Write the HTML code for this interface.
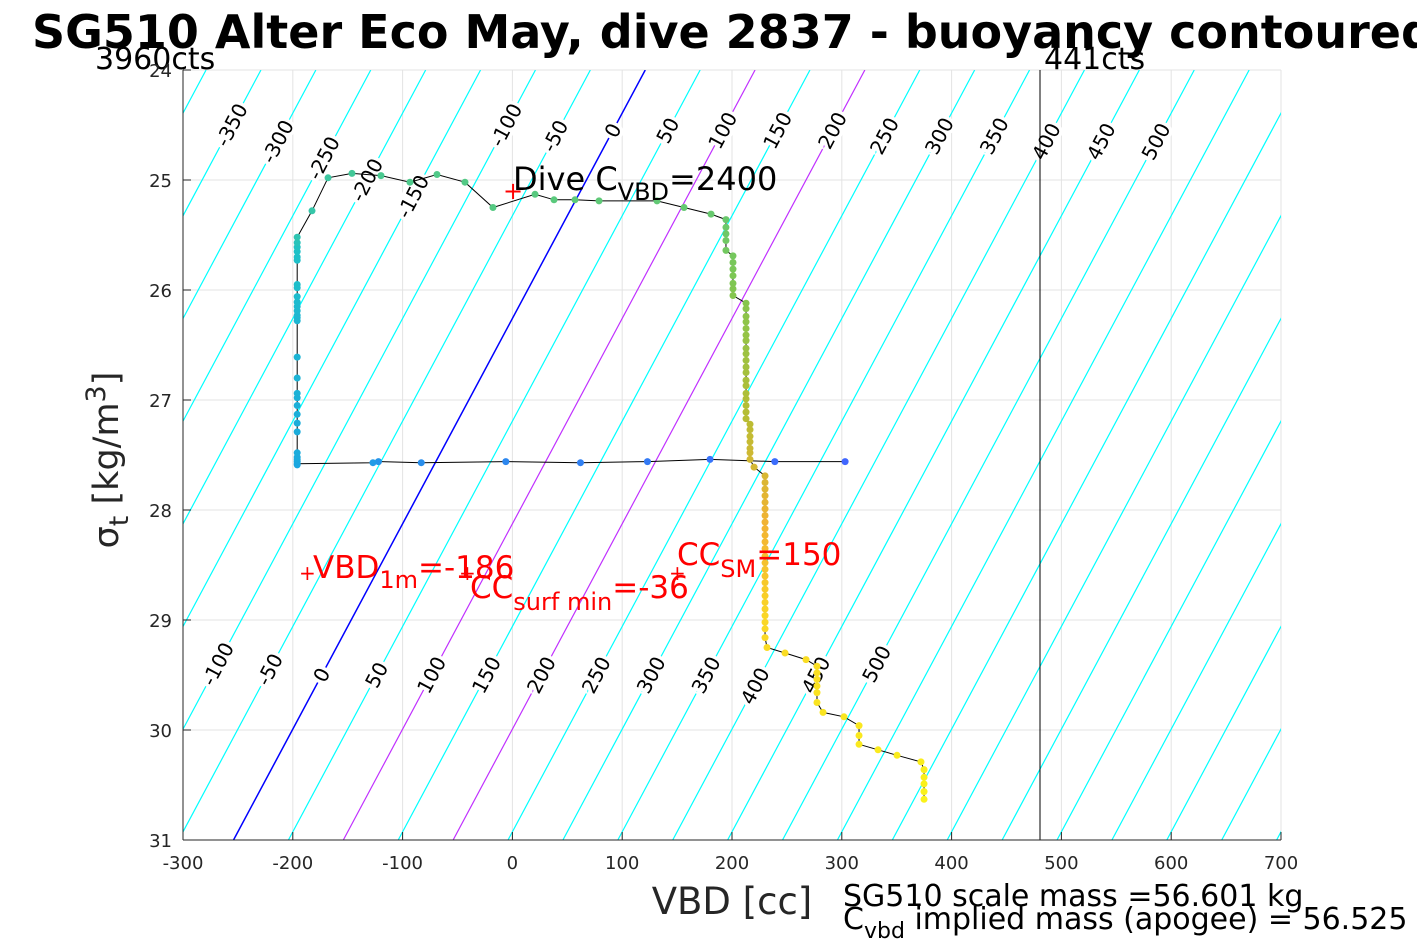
<!DOCTYPE html>
<html><head><meta charset="utf-8">
<style>
html,body{margin:0;padding:0;background:#fff;}
svg{display:block;font-family:"DejaVu Sans","Liberation Sans",sans-serif;}
</style></head>
<body>
<svg id="chart" width="1417" height="945" viewBox="0 0 1417 945">
<defs><clipPath id="pc"><rect x="183" y="70" width="1098" height="770"/></clipPath></defs>
<text x="32" y="48" font-size="46" font-weight="bold">SG510 Alter Eco May, dive 2837 - buoyancy contoured</text>
<g id="grid"></g>
<g id="contours" clip-path="url(#pc)"></g>
<g id="clabels"></g>
<line x1="1040" y1="70" x2="1040" y2="840" stroke="#000" stroke-width="1"/>
<text x="95" y="69" font-size="30">3960cts</text>
<text x="1044" y="69" font-size="30">441cts</text>
<g id="series"></g>
<g id="axes"></g>
<g fill="#f00">
<text x="503" y="199" font-size="24">+</text>
<text x="513" y="190" font-size="32" fill="#000">Dive C<tspan font-size="24" dy="10">VBD</tspan><tspan dy="-10">=2400</tspan></text>
<text x="299" y="580" font-size="20">+</text>
<text x="313" y="578" font-size="31">VBD<tspan font-size="24" dy="10">1m</tspan><tspan dy="-10">=-186</tspan></text>
<text x="459" y="580" font-size="20">+</text>
<text x="470" y="598" font-size="31">CC<tspan font-size="24" dy="12">surf min</tspan><tspan dy="-12">=-36</tspan></text>
<text x="669" y="580" font-size="20">+</text>
<text x="677" y="565" font-size="31">CC<tspan font-size="24" dy="12">SM</tspan><tspan dy="-12">=150</tspan></text>
</g>
<text x="732" y="914" font-size="37" fill="#262626" text-anchor="middle">VBD [cc]</text>
<text transform="translate(118,460) rotate(-90)" font-size="35" fill="#262626" text-anchor="middle">σ<tspan font-size="27" dy="10">t</tspan><tspan dy="-10"> [kg/m</tspan><tspan font-size="27" dy="-13">3</tspan><tspan dy="13">]</tspan></text>
<text x="843" y="906" font-size="30">SG510 scale mass =56.601 kg</text>
<text x="843" y="929" font-size="30">C<tspan font-size="22" dy="9">vbd</tspan><tspan dy="-9"> implied mass (apogee) = 56.525 kg</tspan></text>
</svg>
<script>
const xTicks=[-300,-200,-100,0,100,200,300,400,500,600,700];
const yTicks=[24,25,26,27,28,29,30,31];
const contourValues=[-700,-650,-600,-550,-500,-450,-400,-350,-300,-250,-200,-150,-100,-50,0,50,100,150,200,250,300,350,400,450,500,550,600,650,700,750,800,850,900,950,1000];
const topLabelValues=[-350,-300,-250,-200,-150,-100,-50,0,50,100,150,200,250,300,350,400,450,500];
const topLabelSigma=[24.5,24.65,24.8,25.0,25.15,24.5,24.6,24.55,24.55,24.55,24.55,24.55,24.6,24.6,24.6,24.65,24.65,24.65];
const botLabelValues=[-100,-50,0,50,100,150,200,250,300,350,400,450,500];
const botLabelSigma=[29.4,29.45,29.5,29.5,29.5,29.5,29.5,29.5,29.5,29.5,29.6,29.5,29.4];
const vbd=[303,239,180,123,62,-6,-83,-122,-127,-196,
-196,-196,-196,-196,-196,-196,-196,-196,-196,-196,-196,-196,-196,-196,-196,-196,-196,-196,-196,-196,-196,-196,-196,-196,-196,-196,-196,-196,
-182.5,-167.9,-146.1,-119.7,-93.3,-68.7,-43.2,-17.7,20.6,37.9,57.0,78.9,131.7,156.3,180.9,
194.5,194.5,194.5,194.5,194.5,
200.9,200.9,200.9,200.9,200.9,200.9,200.9,
212.8,212.8,212.8,212.8,212.8,212.8,212.8,212.8,212.8,212.8,212.8,212.8,212.8,212.8,212.8,212.8,212.8,212.8,212.8,
216.4,216.4,216.4,216.4,216.4,216.4,216.4,220.1,
230.1,230.1,230.1,230.1,230.1,230.1,230.1,230.1,230.1,230.1,230.1,230.1,230.1,230.1,230.1,230.1,230.1,230.1,230.1,230.1,230.1,230.1,230.1,230.1,230.1,
231.9,248.3,267.4,
277.4,277.4,277.4,277.4,277.4,277.4,282.9,302.0,
315.7,315.7,315.7,333.0,350.3,372.1,
374.9,374.9,374.9,374.9,374.9];
const sigma=[27.56,27.56,27.54,27.56,27.57,27.56,27.57,27.56,27.57,27.58,
27.59,27.56,27.54,27.52,27.48,27.29,27.21,27.13,27.05,26.98,26.94,26.80,26.61,26.28,26.25,26.23,26.19,26.15,26.11,26.06,25.98,25.95,25.73,25.70,25.65,25.61,25.57,25.52,
25.28,24.98,24.94,24.96,25.02,24.95,25.02,25.25,25.13,25.18,25.18,25.19,25.19,25.25,25.31,
25.36,25.43,25.49,25.55,25.64,
25.69,25.75,25.81,25.87,25.94,25.99,26.05,
26.12,26.17,26.24,26.29,26.35,26.41,26.46,26.53,26.58,26.64,26.70,26.75,26.82,26.87,26.94,26.99,27.05,27.11,27.17,
27.22,27.27,27.33,27.38,27.44,27.48,27.54,27.61,
27.69,27.75,27.81,27.87,27.93,27.99,28.05,28.11,28.17,28.23,28.29,28.35,28.42,28.48,28.54,28.60,28.66,28.72,28.78,28.84,28.90,28.96,29.02,29.08,29.16,
29.25,29.30,29.36,
29.42,29.48,29.54,29.60,29.66,29.75,29.84,29.88,
29.96,30.05,30.13,30.18,30.23,30.29,
30.36,30.43,30.49,30.56,30.63];

const NS="http://www.w3.org/2000/svg";
const X0=183,X1=1281,Y0=70,Y1=840;
const xs=v=>X0+(v+300)/1000*(X1-X0);
const ys=s=>Y0+(s-24)/7*(Y1-Y0);
const v0=s=>121-(s-24)*53.57;
function mk(tag,attrs,parent){const e=document.createElementNS(NS,tag);for(const k in attrs)e.setAttribute(k,attrs[k]);parent.appendChild(e);return e;}
const grid=document.getElementById('grid'),axes=document.getElementById('axes');
xTicks.forEach(t=>{
  const l=mk('line',{x1:xs(t),x2:xs(t),y1:Y0,y2:Y1,stroke:'#e3e3e3','stroke-width':1},grid);
  
  
  const tx=mk('text',{x:xs(t),y:869,'font-size':18,'text-anchor':'middle',fill:'#262626'},axes);
  tx.textContent=t;
  
  
  const tk=mk('line',{x1:xs(t),x2:xs(t),y1:Y1,y2:Y1-8,stroke:'#262626'},axes);
  
  
});
yTicks.forEach(t=>{
  const l=mk('line',{x1:X0,x2:X1,y1:ys(t),y2:ys(t),stroke:'#e3e3e3','stroke-width':1},grid);
  
  
  const tx=mk('text',{x:172,y:ys(t)+7,'font-size':18,'text-anchor':'end',fill:'#262626'},axes);
  tx.textContent=t;
  
  
  const tk=mk('line',{x1:X0,x2:X0+8,y1:ys(t),y2:ys(t),stroke:'#262626'},axes);
  
  
});
const ax1=mk('line',{x1:X0,x2:X0,y1:Y0,y2:Y1,stroke:'#262626'},axes);


const ax2=mk('line',{x1:X0,x2:X1,y1:Y1,y2:Y1,stroke:'#262626'},axes);



const cg=document.getElementById('contours');
function ccol(c){return c===0?'#0000ff':(c===100||c===200)?'#c030ff':'#00ffff';}
contourValues.forEach(c=>{
  const l=mk('line',{x1:xs(c+v0(24)),y1:ys(24),x2:xs(c+v0(31)),y2:ys(31),stroke:ccol(c),'stroke-width':c===0?1.5:1.2},cg);
  
  
});
const lg=document.getElementById('clabels');
function label(c,s){
  const x=xs(c+v0(s)),y=ys(s);
  const t=mk('text',{x:x,y:y+7,'font-size':20,'text-anchor':'middle',transform:`rotate(-62 ${x} ${y})`,stroke:'#fff','stroke-width':7,'paint-order':'stroke',fill:'#000'},lg);
  t.textContent=c;
  
  
}
topLabelValues.forEach((c,i)=>label(c,topLabelSigma[i]));
botLabelValues.forEach((c,i)=>label(c,botLabelSigma[i]));

const cstops=[0,0.07,0.25,0.3,0.45,0.6,0.72,0.82,1];
const ccols=[[0.25,0.4,1.0],[0.1,0.65,0.88],[0.12,0.76,0.78],[0.3,0.79,0.55],[0.5,0.78,0.32],[0.72,0.74,0.2],[0.95,0.7,0.2],[0.98,0.84,0.15],[0.98,0.95,0.1]];
function pcol(f){let i=0;while(i<cstops.length-2&&f>cstops[i+1])i++;const r=(f-cstops[i])/(cstops[i+1]-cstops[i]);const c=ccols[i].map((a,k)=>Math.round(255*(a+(ccols[i+1][k]-a)*r)));return `rgb(${c[0]},${c[1]},${c[2]})`;}
const sg=document.getElementById('series');
const path=mk('polyline',{points:vbd.map((v,i)=>xs(v)+','+ys(sigma[i])).join(' '),fill:'none',stroke:'#000','stroke-width':1},sg);


const n=vbd.length;
vbd.forEach((v,i)=>{
  const f=i/(n-1);
  const c=mk('circle',{cx:xs(v),cy:ys(sigma[i]),r:3.5,fill:pcol(f)},sg);
  
  
});
</script>
</body></html>
